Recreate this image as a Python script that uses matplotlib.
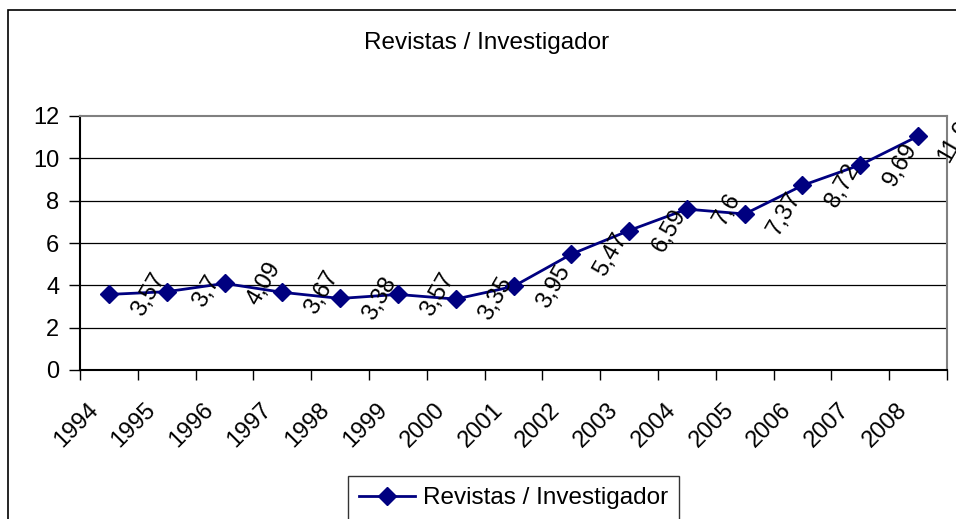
import numpy as np
import matplotlib
matplotlib.use('Agg')
import matplotlib.pyplot as plt
import matplotlib.transforms as mtransforms
from matplotlib.patches import Rectangle

years = ['1994', '1995', '1996', '1997', '1998', '1999', '2000', '2001',
         '2002', '2003', '2004', '2005', '2006', '2007', '2008']
revistas = [3.57, 3.7, 4.09, 3.67, 3.38, 3.57, 3.35, 3.95,
            5.47, 6.59, 7.6, 7.37, 8.72, 9.69, 11.05]
yticks = [0, 2, 4, 6, 8, 10, 12]

plt.rcParams['font.family'] = ['Liberation Sans', 'DejaVu Sans']
W, H = 956, 519
fs = 17
fig = plt.figure(figsize=(W / 100, H / 100), dpi=100)

# plot area in pixels: left 80, right 947, top 116, bottom 370
ax = fig.add_axes([80 / W, 1 - 370 / H, (947 - 80) / W, (370 - 116) / H])

x = np.arange(len(years))
line, = ax.plot(x, revistas, color='#000080', linewidth=2, marker='D',
                markersize=9, label='Revistas / Investigador', clip_on=False,
                zorder=3)

# data labels, rotated to the right of each point
for xi, v in zip(x, revistas):
    ax.annotate(('%g' % v).replace('.', ','), (xi, v), xytext=(40, 0),
                textcoords='offset pixels', ha='center', va='center',
                rotation=60, fontsize=fs, annotation_clip=False, zorder=4)

ax.set_xlim(-0.5, len(years) - 0.5)
ax.set_ylim(0, 12)
ax.set_yticks(yticks)
ax.set_yticklabels([str(t) for t in yticks], fontsize=fs)
ax.tick_params(axis='y', direction='out', length=8, width=1, color='black', pad=7)

ax.set_xticks(x)
ax.set_xticklabels(years, rotation=45, ha='right', rotation_mode='anchor',
                   fontsize=fs)
ax.tick_params(axis='x', which='major', length=0, pad=21)
shift = mtransforms.ScaledTranslation(-22 / 100, 0, fig.dpi_scale_trans)
for lab in ax.get_xticklabels():
    lab.set_transform(lab.get_transform() + shift)
ax.set_xticks(np.arange(-0.5, len(years)), minor=True)
ax.tick_params(axis='x', which='minor', direction='out', length=7, width=1,
               color='black')

for t in yticks[1:-1]:
    ax.axhline(t, color='black', linewidth=0.9, zorder=1)

ax.spines['left'].set_color('black')
ax.spines['bottom'].set_color('black')
ax.spines['top'].set_color('#808080')
ax.spines['right'].set_color('#808080')
for s in ax.spines.values():
    s.set_linewidth(1.5)

fig.text(487 / W, 1 - 43 / H, 'Revistas / Investigador', ha='center',
         va='center', fontsize=17.5)

leg = fig.legend(handles=[line], loc='center', bbox_to_anchor=(513.5 / W, 1 - 498 / H),
                 prop={'size': 17.5}, frameon=True, fancybox=False,
                 edgecolor='black', handlelength=2.3, handletextpad=0.35,
                 borderpad=0.45, borderaxespad=0)
leg.get_frame().set_linewidth(1)

# chart area border
fig.patches.append(Rectangle((8 / W, -0.05), 1.1, 1 - 10 / H + 0.05,
                             transform=fig.transFigure, fill=False,
                             edgecolor='black', linewidth=1.2))

fig.savefig('out.png', dpi=100)
